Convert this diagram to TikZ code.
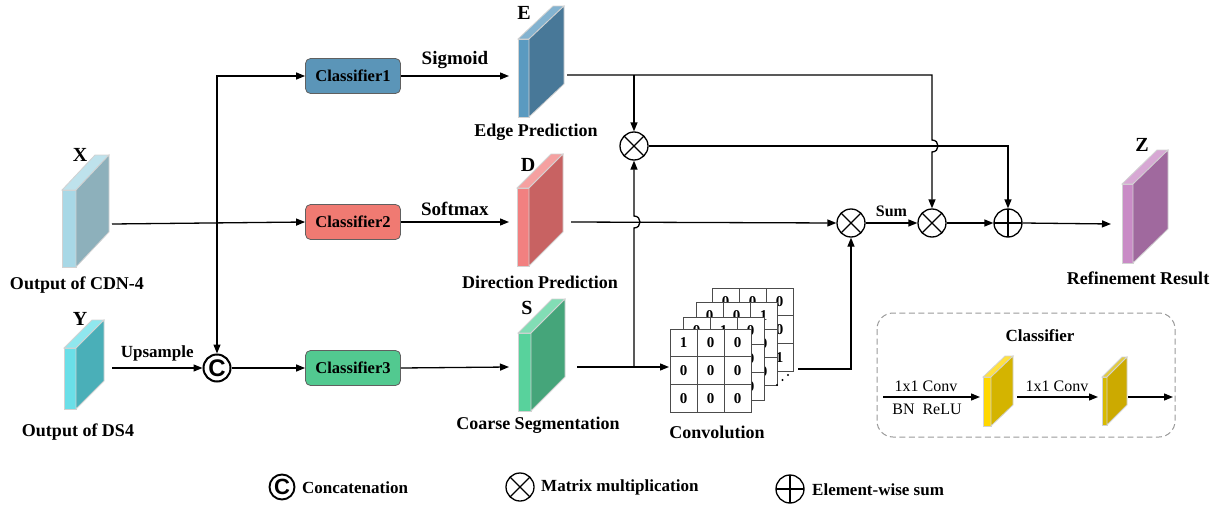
\documentclass[tikz,border=0pt]{standalone}
\usepackage{fontspec}
\setmainfont{Liberation Serif}
\newfontfamily\csans{Liberation Sans}
\usetikzlibrary{arrows.meta}
\definecolor{xf}{HTML}{A8D8E6}\definecolor{xs}{HTML}{8DB0BB}
\definecolor{yf}{HTML}{6ADFE8}\definecolor{ys}{HTML}{4AAFB8}
\definecolor{ef}{HTML}{5A9AC0}\definecolor{es}{HTML}{487898}
\definecolor{df}{HTML}{F28080}\definecolor{ds}{HTML}{C86262}
\definecolor{sf}{HTML}{58D29C}\definecolor{ss}{HTML}{45A57A}
\definecolor{zf}{HTML}{C98BC6}\definecolor{zs}{HTML}{A0699E}
\definecolor{kf}{HTML}{FFD700}\definecolor{ks}{HTML}{D4B400}
\definecolor{kf2}{HTML}{D8BA00}\definecolor{ks2}{HTML}{CCAA00}
\definecolor{cone}{HTML}{5B95B8}\definecolor{ctwo}{HTML}{F07A72}\definecolor{cthree}{HTML}{52C990}
% slab: x, y, w, h, dx, dy, front, side
\newcommand\slab[8]{%
  \filldraw[fill=#7, draw=gray!35, line width=0.8pt] (#1,#2) rectangle ({#1+#3},{#2+#4});
  \filldraw[fill=#7!75!white, draw=gray!35, line width=0.8pt] (#1,#2) -- ({#1+#5},{#2-#6}) -- ({#1+#3+#5},{#2-#6}) -- ({#1+#3},#2) -- cycle;
  \filldraw[fill=#8, draw=gray!35, line width=0.8pt] ({#1+#3},#2) -- ({#1+#3+#5},{#2-#6}) -- ({#1+#3+#5},{#2+#4-#6}) -- ({#1+#3},{#2+#4}) -- cycle;
}
% grid: x, y, values, name
\newcommand\convgrid[4]{%
  \filldraw[fill=white, draw=gray!60!black, line width=0.7pt] (#1,#2) rectangle ({#1+81},{#2+83});
  \foreach \k in {1,2}{
    \draw[gray!60!black, line width=0.7pt] ({#1+27*\k},#2) -- ({#1+27*\k},{#2+83});
    \draw[gray!60!black, line width=0.7pt] (#1,{#2+27.67*\k}) -- ({#1+81},{#2+27.67*\k});
  }
  \foreach \v [count=\i from 0] in {#3}{
    \pgfmathtruncatemacro\gr{\i/3}
    \pgfmathtruncatemacro\gc{\i-3*\gr}
    \node[font=\fontsize{15}{17}\selectfont\bfseries, inner sep=0] (#4n\i) at ({#1+13.5+27*\gc},{#2+14+27.67*\gr}) {\v};
  }
}
\tikzset{
  lab/.style={font=\fontsize{18}{20}\selectfont\bfseries, inner sep=0},
  big/.style={font=\fontsize{20}{22}\selectfont\bfseries, inner sep=0},
  albl/.style={font=\fontsize{19}{21}\selectfont\bfseries, inner sep=0},
  leg/.style={font=\fontsize{17}{19}\selectfont\bfseries, inner sep=0, anchor=west},
  clsbox/.style={draw=gray!75!black, rounded corners=5pt, minimum width=95pt, minimum height=35pt, font=\fontsize{16.5}{18}\selectfont\bfseries, line width=0.8pt, inner sep=0},
  arr/.style={-{Triangle[length=9pt,width=7pt]}, line width=1.3pt},
  ln/.style={line width=1.3pt},
  opc/.style={circle, draw, minimum size=28pt, inner sep=0, line width=1.3pt},
  otimes/.style={opc, path picture={\draw[line width=1.3pt]
     ([shift={(45:14pt)}]path picture bounding box.center) -- ([shift={(225:14pt)}]path picture bounding box.center)
     ([shift={(135:14pt)}]path picture bounding box.center) -- ([shift={(-45:14pt)}]path picture bounding box.center);}},
  oplus/.style={opc, path picture={\draw[line width=1.3pt]
     ([shift={(0:14pt)}]path picture bounding box.center) -- ([shift={(180:14pt)}]path picture bounding box.center)
     ([shift={(90:14pt)}]path picture bounding box.center) -- ([shift={(270:14pt)}]path picture bounding box.center);}},
  concat/.style={circle, draw, minimum size=27pt, inner sep=0, line width=2pt, font=\fontsize{24}{24}\selectfont\csans\bfseries},
  small/.style={font=\fontsize{16}{18}\selectfont, inner sep=0},
}
\begin{document}
\begin{tikzpicture}[x=1pt,y=-1pt]
\useasboundingbox (0,0) rectangle (1227,506);

% slabs
\slab{62}{190}{14}{77}{33}{35}{xf}{xs}
\slab{64}{348}{12}{61}{28}{28}{yf}{ys}
\slab{518}{39}{11}{78}{35}{33}{ef}{es}
\slab{517}{188}{12}{78}{34}{34}{df}{ds}
\slab{518}{333}{13}{78}{34}{34}{sf}{ss}
\slab{1122}{184}{11}{79}{35}{34}{zf}{zs}

\coordinate (Xout) at (112,224);
\coordinate (Yout) at (112,368);
\coordinate (Ein) at (509,76);
\coordinate (Din) at (509,222);
\coordinate (Sin) at (509,367);
\coordinate (Eout) at (567,75);
\coordinate (Dout) at (571,222);
\coordinate (Sout) at (577,367);
\coordinate (Zin) at (1111,224);

% labels
\node[big] (lx) at (80,155) {X};
\node[lab] (lcdn) at (77,285) {Output of CDN-4};
\node[big] (ly) at (80,319) {Y};
\node[lab] (lds) at (78,432) {Output of DS4};
\node[big] (le) at (524,13) {E};
\node[lab] (lep) at (536,132) {Edge Prediction};
\node[big] (ld) at (528,165) {D};
\node[lab] (ldp) at (540,282) {Direction Prediction};
\node[big] (ls) at (527,308) {S};
\node[lab] (lcs) at (538,425) {Coarse Segmentation};
\node[big] (lz) at (1142,145) {Z};
\node[lab] (lrr) at (1138,278) {Refinement Result};

% classifiers
\node[clsbox, fill=cone] (c1) at (353,76) {Classifier1};
\node[clsbox, fill=ctwo] (c2) at (353,222) {Classifier2};
\node[clsbox, fill=cthree] (c3) at (353,368) {Classifier3};

% operators
\node[concat] (cc) at (217,368) {C};
\node[otimes] (m1) at (634,146) {};
\node[otimes] (m2) at (851,223) {};
\node[otimes] (m3) at (932,223) {};
\node[oplus] (a1) at (1008,223) {};

% convolution grids
\convgrid{712}{288}{0,0,0,0,0,0,0,0,1}{g4}
\convgrid{696}{302}{0,0,1,0,0,0,0,0,0}{g3}
\convgrid{683}{317}{0,1,0,0,0,0,0,0,0}{g2}
\convgrid{670}{329}{1,0,0,0,0,0,0,0,0}{g1}
\fill (777,385) circle (1.2) (782.5,380) circle (1.2) (788,375) circle (1.2);
\node[lab] (lconv) at (717,432) {Convolution};
\coordinate (convin) at (669,367);
\coordinate (convout) at (798,369);

% connectors
\draw[arr] (Xout) -- (c2.west);
\draw[ln, {Triangle[length=9pt,width=7pt]}-{Triangle[length=9pt,width=7pt]}] (c1.west) -| (cc.north);
\draw[arr] (Yout) -- node[albl, font=\fontsize{17}{19}\selectfont\bfseries, above=6pt] (lup) {Upsample} (cc.west);
\draw[arr] (cc.east) -- (c3.west);
\draw[arr] (c1.east) -- node[albl, above=7pt] (lsig) {Sigmoid} (Ein);
\draw[arr] (c2.east) -- node[albl, above=6pt] (lsoft) {Softmax} (Din);
\draw[arr] (c3.east) -- (Sin);

\coordinate (ej) at (634,75);
\draw[arr] (Eout) -- (932,75) -- (932,140) .. controls (940,140) and (940,152) .. (932,152) -- (m3.north);
\draw[arr] (ej) -- (m1.north);
\draw[arr] (m1.east) -| (a1.north);
\draw[arr] (Dout) -- (m2.west);
\coordinate (sj) at (634,367);
\draw[arr] (Sout) -- (convin);
\draw[arr] (sj) -- (634,228) .. controls (642,228) and (642,216) .. (634,216) -- (m1.south);
\draw[arr] (convout) -| (m2.south);
\draw[arr] (m2.east) -- node[font=\fontsize{16}{18}\selectfont\bfseries, inner sep=0, above=6pt] (lsum) {Sum} (m3.west);
\draw[arr] (m3.east) -- (a1.west);
\draw[arr] (a1.east) -- (Zin);

% classifier legend box
\draw[dashed, dash pattern=on 6pt off 3.5pt, gray!80, rounded corners=16pt, line width=1pt] (877,313) rectangle (1175,437);
\node[font=\fontsize{17}{19}\selectfont\bfseries, inner sep=0] (lcls) at (1040,336) {Classifier};
\slab{983}{377}{8}{49}{22}{21}{kf}{ks}
\slab{1102}{377}{5}{48}{20}{20}{kf2}{ks2}
\coordinate (k0) at (883,397);
\coordinate (k1in) at (980,397);
\coordinate (k1out) at (1017,397);
\coordinate (k2in) at (1098,397);
\coordinate (k2out) at (1128,397);
\coordinate (kend) at (1173,397);
\draw[arr] (k0) -- (k1in);
\node[small] (lc1) at (926,386) {1x1 Conv};
\node[small] (lbn) at (927,409) {BN\ \ ReLU};
\draw[arr] (k1out) -- (k2in);
\node[small] (lc2) at (1057,386) {1x1 Conv};
\draw[arr] (k2out) -- (kend);

% legend
\node[concat, minimum size=25pt, line width=1.9pt, font=\fontsize{22}{22}\selectfont\csans\bfseries] (lgc) at (282,487) {C};
\node[leg] (lgct) at (302,488) {Concatenation};
\node[otimes] (lgm) at (520,487) {};
\node[leg] (lgmt) at (541,487) {Matrix multiplication};
\node[oplus] (lga) at (790,489) {};
\node[leg] (lgat) at (812,490) {Element-wise sum};
\end{tikzpicture}
\end{document}
